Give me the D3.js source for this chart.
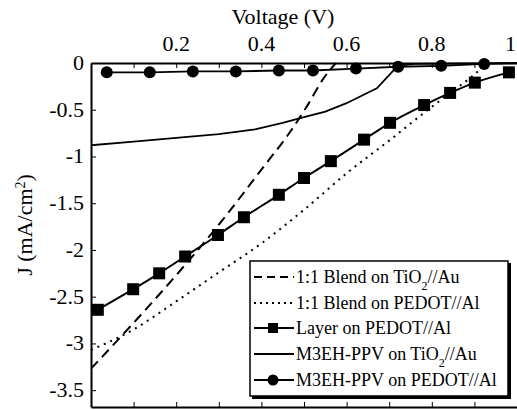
<!DOCTYPE html>
<html lang="en">
<head>
    <meta charset="UTF-8">
    <title>J-V curves</title>
</head>
<style>
    body { margin: 0; background: #fff; }
    .axis path, .axis line { stroke: #000; }
</style>
<body>
<script src="https://d3js.org/d3.v7.min.js"></script>
<script>
    const width = 517, height = 410;
    const margin = {top: 63, right: 0, bottom: 3, left: 91};
    const serif = "'Liberation Serif', 'DejaVu Serif', serif";

    // series: [voltage V, current density mA/cm2]
    const blendTiO2 = [[0, -3.27], [0.1, -2.78], [0.2, -2.27], [0.3, -1.73], [0.4, -1.14],
        [0.47, -0.72], [0.51, -0.44], [0.545, -0.17], [0.575, 0]];
    const blendPEDOT = [[0, -3.07], [0.1, -2.85], [0.2, -2.55], [0.3, -2.24], [0.4, -1.93],
        [0.5, -1.57], [0.6, -1.18], [0.7, -0.83], [0.78, -0.54], [0.84, -0.33], [0.89, -0.16], [0.93, 0]];
    const layerPEDOT = [[0.016, -2.64], [0.099, -2.42], [0.16, -2.25], [0.221, -2.07], [0.298, -1.84],
        [0.359, -1.65], [0.441, -1.41], [0.5, -1.23], [0.563, -1.05], [0.641, -0.82], [0.702, -0.64],
        [0.782, -0.45], [0.843, -0.32], [0.901, -0.21], [0.981, -0.10]];
    const ppvTiO2 = [[0, -0.88], [0.1, -0.84], [0.2, -0.80], [0.3, -0.76], [0.385, -0.71], [0.45, -0.64],
        [0.5, -0.58], [0.55, -0.52], [0.6, -0.43], [0.64, -0.34], [0.671, -0.27], [0.72, -0.03],
        [0.76, -0.01], [1.0, 0]];
    const ppvPEDOT = [[0.037, -0.10], [0.138, -0.10], [0.239, -0.09], [0.340, -0.09], [0.441, -0.08],
        [0.521, -0.08], [0.622, -0.06], [0.721, -0.04], [0.822, -0.03], [0.923, -0.01]];
    const ppvPEDOTline = ppvPEDOT.concat([[1.0, 0]]);

    const xTicks = [0.1, 0.2, 0.3, 0.4, 0.5, 0.6, 0.7, 0.8, 0.9, 1.0];
    const xLabels = [0.2, 0.4, 0.6, 0.8, 1.0];
    const yTicks = [0, -0.5, -1, -1.5, -2, -2.5, -3, -3.5];

    const legendNames = ["1:1 Blend on TiO|2|//Au", "1:1 Blend on PEDOT//Al", "Layer on PEDOT//Al",
        "M3EH-PPV on TiO|2|//Au", "M3EH-PPV on PEDOT//Al"];

    const svg = d3.select("body").append("svg")
        .attr("width", width)
        .attr("height", height)
        .style("font-family", serif);

    const x = d3.scaleLinear().domain([0, 1]).range([margin.left, margin.left + 426]);
    const y = d3.scaleLinear().domain([0, -3.68]).range([margin.top, height - margin.bottom]);

    svg.append("clipPath").attr("id", "plot")
        .append("rect")
        .attr("x", margin.left).attr("y", margin.top - 8)
        .attr("width", width - margin.left).attr("height", y(-3.68) - margin.top + 8);

    // axes: ticks point inward
    svg.append("g").attr("class", "axis")
        .attr("transform", `translate(0,${y(0)})`)
        .call(d3.axisTop(x).tickValues(xTicks).tickSizeInner(-5).tickSizeOuter(0).tickFormat(""))
        .select(".domain").attr("stroke-width", 2);

    svg.append("g").attr("class", "axis")
        .attr("transform", `translate(0,${y(-3.68)})`)
        .call(d3.axisBottom(x).tickValues(xTicks).tickSizeInner(-5).tickSizeOuter(0).tickFormat(""))
        .select(".domain").attr("stroke-width", 2);

    svg.append("g").attr("class", "axis")
        .attr("transform", `translate(${x(0)},0)`)
        .call(d3.axisLeft(y).tickValues(yTicks).tickSizeInner(-5).tickSizeOuter(0).tickFormat(""))
        .select(".domain").attr("stroke-width", 2);

    svg.selectAll("text.xl")
        .data(xLabels)
        .enter().append("text")
        .attr("class", "xl")
        .attr("x", d => d === 1 ? width - 1 : x(d))
        .attr("y", 51)
        .attr("text-anchor", d => d === 1 ? "end" : "middle")
        .style("font-size", "22px")
        .text(d => d === 1 ? "1" : d3.format(".1f")(d));

    svg.selectAll("text.yl")
        .data(yTicks)
        .enter().append("text")
        .attr("class", "yl")
        .attr("x", 84)
        .attr("y", d => y(d) + 7)
        .attr("text-anchor", "end")
        .style("font-size", "22px")
        .text(d => d === 0 ? "0" : String(d));

    svg.append("text")
        .attr("x", 283).attr("y", 24)
        .attr("text-anchor", "middle")
        .style("font-size", "22px")
        .text("Voltage (V)");

    const ylab = svg.append("text")
        .attr("transform", "translate(32,225) rotate(-90)")
        .attr("text-anchor", "middle")
        .style("font-size", "22px");
    ylab.append("tspan").text("J (mA/cm");
    ylab.append("tspan").attr("baseline-shift", "super").style("font-size", "14px").text("2");
    ylab.append("tspan").text(")");

    // data
    const plot = svg.append("g").attr("clip-path", "url(#plot)");
    const line = d3.line().x(d => x(d[0])).y(d => y(d[1]));
    const smooth = d3.line().x(d => x(d[0])).y(d => y(d[1])).curve(d3.curveMonotoneX);

    plot.append("path").datum(blendTiO2)
        .attr("d", smooth).attr("fill", "none").attr("stroke", "#000")
        .attr("stroke-width", 2).attr("stroke-dasharray", "10,6");
    plot.append("path").datum(blendPEDOT)
        .attr("d", smooth).attr("fill", "none").attr("stroke", "#000")
        .attr("stroke-width", 2).attr("stroke-dasharray", "2,5");
    plot.append("path").datum(ppvTiO2)
        .attr("d", line).attr("fill", "none").attr("stroke", "#000").attr("stroke-width", 1.8);
    plot.append("path").datum(ppvPEDOTline)
        .attr("d", line).attr("fill", "none").attr("stroke", "#000").attr("stroke-width", 1.8);
    plot.append("path").datum(layerPEDOT)
        .attr("d", smooth).attr("fill", "none").attr("stroke", "#000").attr("stroke-width", 2);

    plot.selectAll("rect.sq")
        .data(layerPEDOT)
        .enter().append("rect")
        .attr("class", "sq")
        .attr("x", d => x(d[0]) - 6).attr("y", d => y(d[1]) - 6)
        .attr("width", 12).attr("height", 12).attr("fill", "#000");
    plot.selectAll("circle.pt")
        .data(ppvPEDOT)
        .enter().append("circle")
        .attr("class", "pt")
        .attr("cx", d => x(d[0])).attr("cy", d => y(d[1]))
        .attr("r", 6).attr("fill", "#000");

    // legend
    const lg = svg.append("g");
    lg.append("rect").attr("x", 252).attr("y", 263).attr("width", 259).attr("height", 136).attr("fill", "#000");
    lg.append("rect").attr("x", 250).attr("y", 261).attr("width", 258).attr("height", 135)
        .attr("fill", "#fff").attr("stroke", "#000").attr("stroke-width", 1.5);

    const rowY = [277, 303, 328, 354, 380];
    const styles = [
        {dash: "8,5", mark: null}, {dash: "2,4", mark: null}, {dash: null, mark: "sq"},
        {dash: null, mark: null}, {dash: null, mark: "ci"}];

    legendNames.forEach(function (name, i) {
        const yy = rowY[i];
        lg.append("line").attr("x1", 254).attr("x2", 294).attr("y1", yy).attr("y2", yy)
            .attr("stroke", "#000").attr("stroke-width", 2)
            .attr("stroke-dasharray", styles[i].dash);
        if (styles[i].mark === "sq")
            lg.append("rect").attr("x", 268).attr("y", yy - 5).attr("width", 10).attr("height", 10);
        if (styles[i].mark === "ci")
            lg.append("circle").attr("cx", 273).attr("cy", yy).attr("r", 5.5);
        const t = lg.append("text").attr("x", 296).attr("y", yy + 6).style("font-size", "18px");
        const parts = name.split("|");
        t.append("tspan").text(parts[0]);
        if (parts.length > 1) {
            t.append("tspan").attr("baseline-shift", "sub").style("font-size", "12px").text(parts[1]);
            t.append("tspan").text(parts[2]);
        }
    });
</script>
</body>
</html>
